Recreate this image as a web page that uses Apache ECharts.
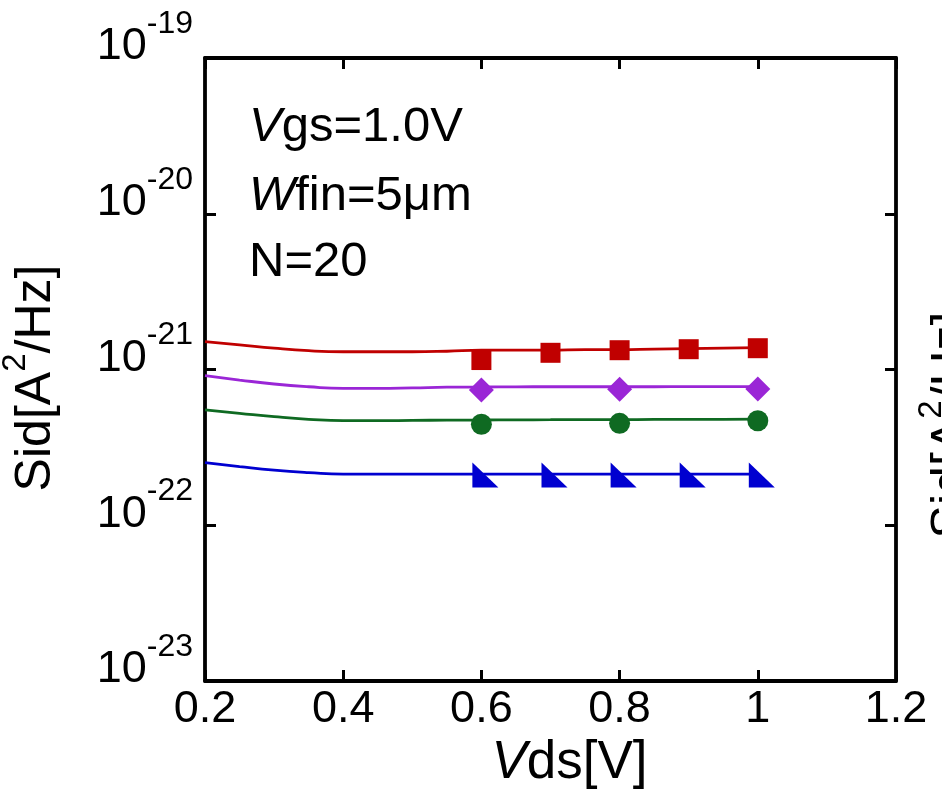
<!DOCTYPE html>
<html>
<head>
<meta charset="utf-8">
<style>
  html, body { margin: 0; padding: 0; background: #fff; }
  #chart { width: 942px; height: 791px; }
</style>
<script src="https://cdn.jsdelivr.net/npm/echarts@6/dist/echarts.min.js"></script>
</head>
<body>
<div id="chart"></div>
<script>
// Drain-current noise spectral density vs drain voltage (Vgs = 1.0 V, Wfin = 5 um, N = 20)

// x positions of the model curves and of the measured points [V]
const vdsCurve = [0.2, 0.25, 0.3, 0.35, 0.4, 0.45, 0.5, 0.55, 0.6, 0.65, 0.7, 0.75, 0.8, 0.85, 0.9, 0.95, 1.0];
const vdsMeasFive = [0.6, 0.7, 0.8, 0.9, 1.0];
const vdsMeasThree = [0.6, 0.8, 1.0];

// model curves [A^2/Hz]
const redCurve = [1.51e-21, 1.44e-21, 1.37e-21, 1.32e-21, 1.30e-21, 1.30e-21, 1.30e-21, 1.31e-21, 1.33e-21, 1.33e-21, 1.33e-21, 1.34e-21, 1.34e-21, 1.35e-21, 1.36e-21, 1.37e-21, 1.38e-21];
const purpleCurve = [9.13e-22, 8.56e-22, 8.07e-22, 7.75e-22, 7.57e-22, 7.57e-22, 7.62e-22, 7.70e-22, 7.72e-22, 7.74e-22, 7.75e-22, 7.75e-22, 7.75e-22, 7.75e-22, 7.76e-22, 7.76e-22, 7.76e-22];
const greenCurve = [5.50e-22, 5.23e-22, 4.98e-22, 4.79e-22, 4.69e-22, 4.69e-22, 4.71e-22, 4.73e-22, 4.74e-22, 4.75e-22, 4.76e-22, 4.77e-22, 4.77e-22, 4.78e-22, 4.79e-22, 4.79e-22, 4.80e-22];
const blueCurve = [2.52e-22, 2.38e-22, 2.26e-22, 2.18e-22, 2.13e-22, 2.13e-22, 2.13e-22, 2.13e-22, 2.13e-22, 2.13e-22, 2.13e-22, 2.13e-22, 2.13e-22, 2.13e-22, 2.13e-22, 2.13e-22, 2.13e-22];

// measured points [A^2/Hz]
const redMeas = [1.15e-21, 1.28e-21, 1.33e-21, 1.35e-21, 1.37e-21];
const purpleMeas = [7.38e-22, 7.46e-22, 7.49e-22];
const greenMeas = [4.45e-22, 4.51e-22, 4.69e-22];
const blueMeas = [2.10e-22, 2.10e-22, 2.10e-22, 2.10e-22, 2.10e-22];

// axis ranges / tick labels
const xTicks = [0.2, 0.4, 0.6, 0.8, 1.0, 1.2];
const yTickExponents = [-23, -22, -21, -20, -19];

const FONT = '"Liberation Sans", Arial, sans-serif';
const colors = { red: '#c00000', purple: '#9a26d6', green: '#0f6a22', blue: '#0000d0' };

function pairs(xs, ys) { return xs.map((x, i) => [x, ys[i]]); }

function curve(name, ys, color) {
  return {
    name: name, type: 'line', xAxisIndex: 0, yAxisIndex: 0,
    data: pairs(vdsCurve, ys), smooth: true, showSymbol: false, silent: true,
    lineStyle: { color: color, width: 2.8 }, z: 2
  };
}
function points(name, xs, ys, color, symbol, size, offset) {
  return {
    name: name, type: 'scatter', xAxisIndex: 0, yAxisIndex: 0,
    data: pairs(xs, ys), symbol: symbol, symbolSize: size,
    symbolOffset: offset || [0, 0], silent: true,
    itemStyle: { color: color, opacity: 1 }, z: 3
  };
}

const frameLine = { show: true, onZero: false, lineStyle: { color: '#000', width: 3.8 } };
const innerTick = { show: true, inside: true, length: 11, lineStyle: { color: '#000', width: 3 } };

const xMin = xTicks[0], xMax = xTicks[xTicks.length - 1];
// the tiny widening keeps the lowest decade inside the log extent despite float rounding
const yMin = Math.pow(10, yTickExponents[0]) * 0.999999;
const yMax = Math.pow(10, yTickExponents[yTickExponents.length - 1]) * 1.000001;

// rich styles shared by the upright / italic annotation texts
function annoRich(size) {
  return {
    i: { fontFamily: FONT, fontSize: size, fontStyle: 'italic', fill: '#000', lineHeight: size + 4 },
    t: { fontFamily: FONT, fontSize: size, fill: '#000', lineHeight: size + 4 }
  };
}
function titleRich(size) {
  return {
    t: { fontFamily: FONT, fontSize: size, lineHeight: size + 4, fill: '#000' },
    s: { fontFamily: FONT, fontSize: 33, lineHeight: 33, fill: '#000', padding: [0, 0, 40, 0] }
  };
}

const chart = echarts.init(document.getElementById('chart'), null, { renderer: 'canvas' });
chart.setOption({
  backgroundColor: '#fff',
  animation: false,
  grid: { left: 205, right: 46, top: 58, bottom: 110, containLabel: false, outerBoundsMode: 'none' },
  xAxis: [
    {
      type: 'value', position: 'bottom', min: xMin, max: xMax, interval: 0.2,
      axisLine: frameLine, axisTick: innerTick, splitLine: { show: false },
      axisLabel: {
        margin: 6, color: '#000', fontFamily: FONT, fontSize: 45,
        showMinLabel: true, showMaxLabel: true, hideOverlap: false,
        formatter: v => String(+v.toFixed(1))
      },
      name: '{i|V}{t|ds[V]}', nameLocation: 'middle', nameGap: 49,
      nameTextStyle: {
        padding: [0, 0, 0, 38],
        rich: {
          i: { fontFamily: FONT, fontSize: 53, fontStyle: 'italic', color: '#000', lineHeight: 56 },
          t: { fontFamily: FONT, fontSize: 53, color: '#000', lineHeight: 56 }
        }
      }
    },
    {
      type: 'value', position: 'top', min: xMin, max: xMax, interval: 0.2,
      axisLine: frameLine, axisTick: innerTick, axisLabel: { show: false }, splitLine: { show: false }
    }
  ],
  yAxis: [
    {
      type: 'log', logBase: 10, position: 'left', min: yMin, max: yMax,
      axisLine: frameLine, axisTick: innerTick, splitLine: { show: false }, minorTick: { show: false },
      axisLabel: {
        margin: 12, color: '#000', showMinLabel: true, showMaxLabel: true, hideOverlap: false,
        formatter: v => '{b|10}{s|' + Math.round(Math.log10(v)) + '}',
        rich: {
          b: { fontFamily: FONT, fontSize: 45, lineHeight: 45, color: '#000', padding: [0, 0, 22, 0] },
          s: { fontFamily: FONT, fontSize: 32, lineHeight: 32, color: '#000', padding: [0, 0, 68, 0] }
        }
      }
    },
    {
      type: 'log', logBase: 10, position: 'right', min: yMin, max: yMax,
      axisLine: frameLine, axisTick: innerTick, axisLabel: { show: false },
      splitLine: { show: false }, minorTick: { show: false }
    }
  ],
  graphic: [
    {
      type: 'text', x: 249, y: 101, silent: true,
      style: { text: '{i|V}{t|gs=1.0V}', rich: annoRich(49) }
    },
    {
      type: 'text', x: 249, y: 170, silent: true,
      style: { text: '{i|W}{t|fin=5\u03bcm}', rich: annoRich(49) }
    },
    {
      type: 'text', x: 249, y: 236, silent: true,
      style: { text: '{t|N=20}', rich: annoRich(49) }
    },
    {
      // y-axis title
      type: 'text', x: 9, y: 378, rotation: Math.PI / 2, silent: true,
      style: { text: '{t|Sid[A}{s|2}{t|/Hz]}', align: 'center', verticalAlign: 'top', rich: titleRich(50) }
    },
    {
      // y-axis title of the adjacent panel, cut by the right edge
      type: 'text', x: 925, y: 425, rotation: Math.PI / 2, silent: true,
      style: { text: '{t|Sid[A}{s|2}{t|/Hz]}', align: 'center', verticalAlign: 'top', rich: titleRich(50) }
    }
  ],
  series: [
    curve('red-model', redCurve, colors.red),
    curve('purple-model', purpleCurve, colors.purple),
    curve('green-model', greenCurve, colors.green),
    curve('blue-model', blueCurve, colors.blue),
    points('red-meas', vdsMeasFive, redMeas, colors.red, 'rect', 20),
    points('purple-meas', vdsMeasThree, purpleMeas, colors.purple, 'diamond', 25),
    points('green-meas', vdsMeasThree, greenMeas, colors.green, 'circle', 21),
    points('blue-meas', vdsMeasFive, blueMeas, colors.blue, 'path://M0,0 L0,1 L1,1 Z', [26, 25], [4, 0])
  ]
});
</script>
</body>
</html>
